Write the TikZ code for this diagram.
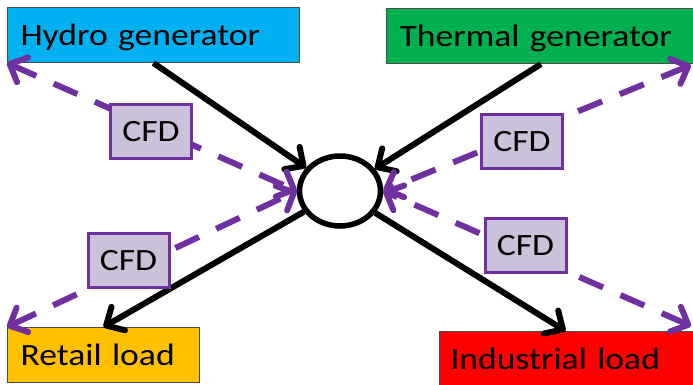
\documentclass[tikz,border=0pt]{standalone}
\usepackage{fontspec}
\setmainfont[FakeStretch=1.15]{Carlito}
\usetikzlibrary{arrows.meta,shapes.geometric}

\definecolor{hydroblue}{HTML}{00B0F0}
\definecolor{thermalgreen}{HTML}{00B050}
\definecolor{retailorange}{HTML}{FFC000}
\definecolor{industrialred}{HTML}{FF0000}
\definecolor{cfdline}{HTML}{7030A0}
\definecolor{cfdfill}{HTML}{CCC1DA}

\begin{document}
\begin{tikzpicture}[x=1pt,y=-1pt,
	>={Straight Barb[length=14pt,width=27pt,round]},
	font=\fontsize{31}{36}\selectfont,
	party/.style={draw=black!70,line width=1pt,anchor=north west,
		minimum height=55pt,text height=20pt,text depth=0pt,
		inner xsep=13pt,align=left},
	cfd/.style={draw=cfdline,fill=cfdfill,line width=3pt,
		minimum width=81pt,minimum height=54pt,text height=20pt,text depth=0pt},
	flow/.style={line width=6pt,black},
	deal/.style={line width=6pt,cfdline,dash pattern=on 26pt off 19pt}]
	
	\useasboundingbox (0,0) rectangle (693,384);
	
	% ---- 四个参与方 ----
	\node[party,fill=hydroblue,text width=266pt] (hydro) at (7,7) {Hydro generator};
	\node[party,fill=thermalgreen,text width=283pt] (thermal) at (386,8) {Thermal generator};
	\node[party,fill=retailorange,text width=166pt] (retail) at (7,327) {Retail load};
	\node[party,fill=industrialred,inner xsep=11pt,text width=238pt] (industrial) at (439,331) {Industrial load};
	
	% ---- 中心（市场）----
	\node[ellipse,draw,fill=white,line width=5.5pt,inner sep=0pt,
	minimum width=81pt,minimum height=70pt] (hub) at (340,191) {};
	
	% ---- 电力流向 ----
	\draw[->,flow] (hydro.south) -- (hub);
	\draw[->,flow] (thermal.south) -- (hub);
	\draw[->,flow] (hub) -- (retail.north);
	\draw[->,flow] (hub) -- ([xshift=-4pt]industrial.north);
	
	% ---- CFD 合约（虚线，双向）----
	\coordinate (thermalend) at (691,65);
	\coordinate (industrialend) at (691,326);
	\draw[<->,deal] (hydro.south west) -- (hub.west);
	\draw[<->,deal] (thermalend) -- (hub.east);
	\draw[<->,deal] (retail.north west) -- (hub.west);
	\draw[<->,deal] (industrialend) -- (hub.east);
	
	\node[cfd] (cfdhydro) at (151,131.5) {CFD};
	\node[cfd] (cfdthermal) at (522,141.5) {CFD};
	\node[cfd] (cfdretail) at (128.5,260.5) {CFD};
	\node[cfd] (cfdindustrial) at (525.5,245) {CFD};
	
\end{tikzpicture}
\end{document}
